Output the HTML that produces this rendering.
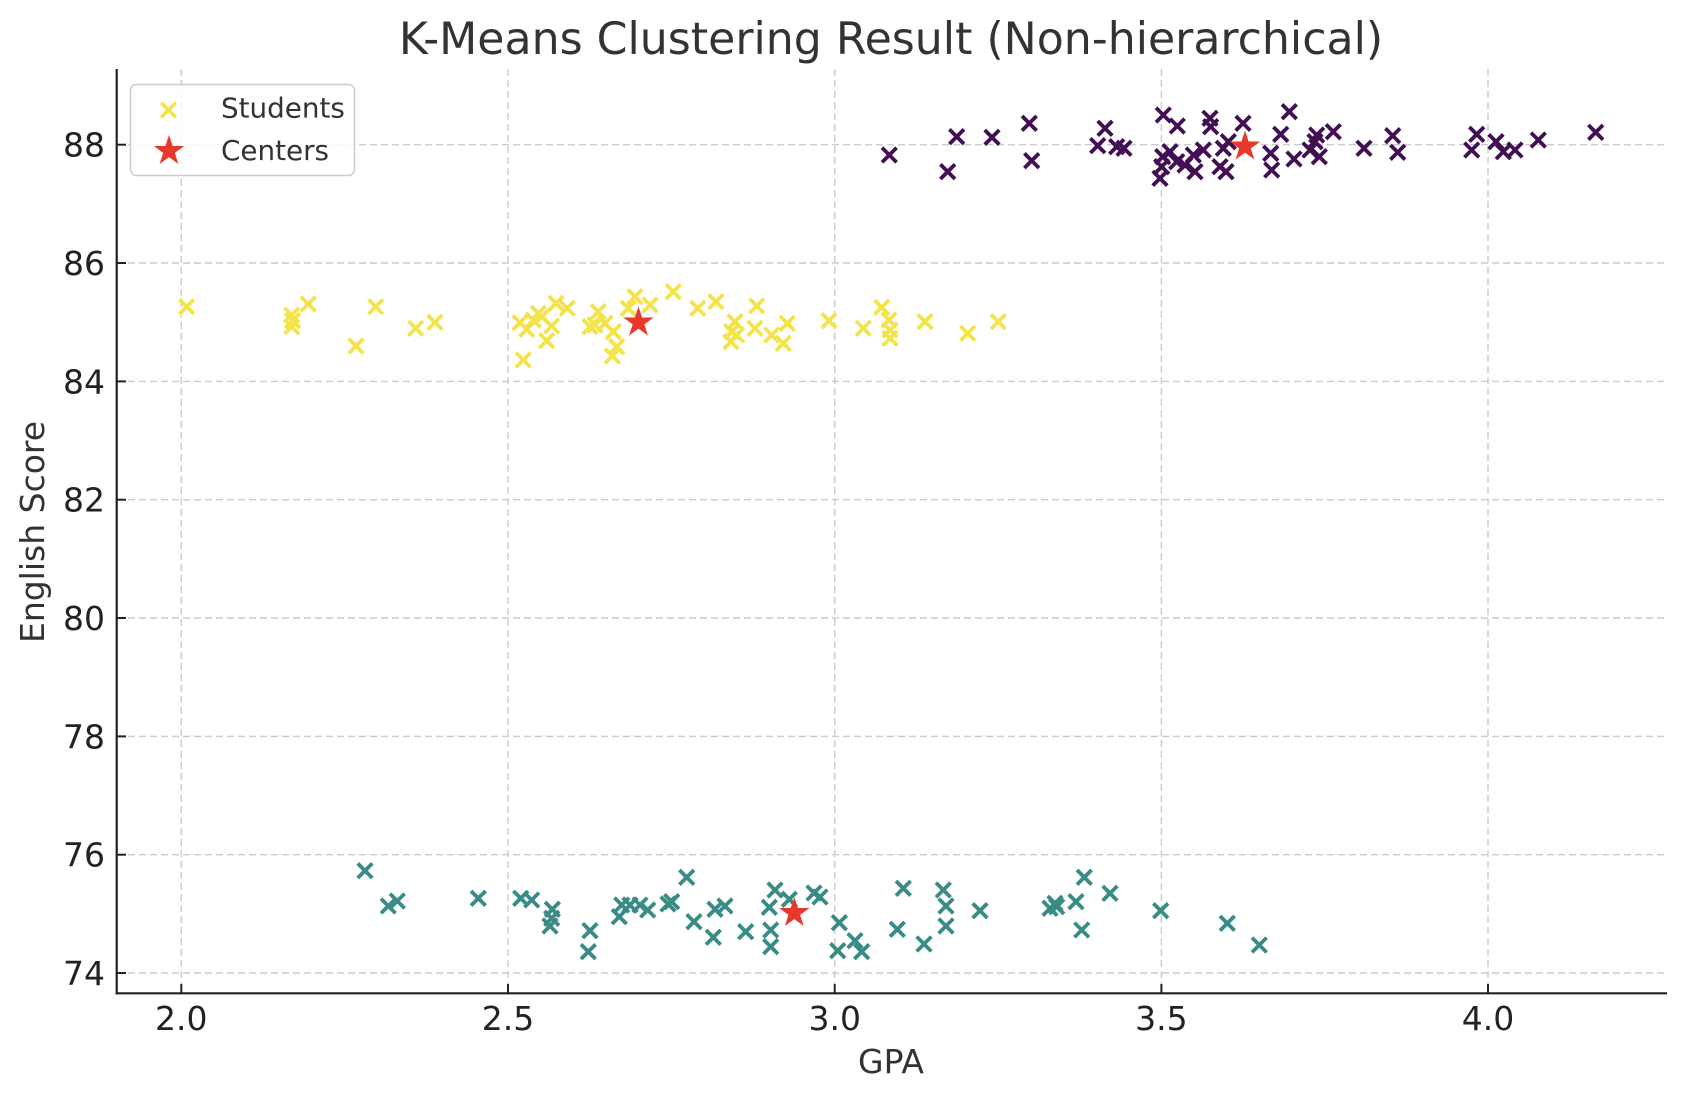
<!DOCTYPE html>
<html><head><meta charset="utf-8"><style>
html,body{margin:0;padding:0;background:#fff;}
svg{display:block;}
text{font-family:"DejaVu Sans","Liberation Sans",sans-serif;}
</style></head><body>
<svg width="1686" height="1101" viewBox="0 0 1686 1101" xmlns="http://www.w3.org/2000/svg">
<defs>
<path id="mx" d="M-7.3,-7.3L7.3,7.3M-7.3,7.3L7.3,-7.3"/>
<path id="st" d="M0,-16 L3.59,-4.94 L15.22,-4.94 L5.81,1.89 L9.40,12.94 L0,6.11 L-9.40,12.94 L-5.81,1.89 L-15.22,-4.94 L-3.59,-4.94 Z"/>
</defs>
<rect width="1686" height="1101" fill="#fff"/>
<g stroke="#cccccc" stroke-width="1.4" stroke-dasharray="7,4" fill="none">
<line x1="181.3" y1="69" x2="181.3" y2="993"/>
<line x1="508" y1="69" x2="508" y2="993"/>
<line x1="834.7" y1="69" x2="834.7" y2="993"/>
<line x1="1161.4" y1="69" x2="1161.4" y2="993"/>
<line x1="1488" y1="69" x2="1488" y2="993"/>
<line x1="117" y1="144.7" x2="1666" y2="144.7"/>
<line x1="117" y1="263" x2="1666" y2="263"/>
<line x1="117" y1="381.4" x2="1666" y2="381.4"/>
<line x1="117" y1="499.7" x2="1666" y2="499.7"/>
<line x1="117" y1="618" x2="1666" y2="618"/>
<line x1="117" y1="736.4" x2="1666" y2="736.4"/>
<line x1="117" y1="854.7" x2="1666" y2="854.7"/>
<line x1="117" y1="973" x2="1666" y2="973"/>
</g>
<g fill="none" stroke="#420f55" stroke-width="3.8">
<use href="#mx" x="889.3" y="155"/>
<use href="#mx" x="947.7" y="171.7"/>
<use href="#mx" x="956.7" y="136.7"/>
<use href="#mx" x="992" y="137.3"/>
<use href="#mx" x="1029.3" y="123.3"/>
<use href="#mx" x="1031.7" y="160.7"/>
<use href="#mx" x="1105" y="128.3"/>
<use href="#mx" x="1097.7" y="145.7"/>
<use href="#mx" x="1116.7" y="146.7"/>
<use href="#mx" x="1124" y="148.3"/>
<use href="#mx" x="1163.3" y="115"/>
<use href="#mx" x="1177.3" y="126"/>
<use href="#mx" x="1162.7" y="156.7"/>
<use href="#mx" x="1170" y="151.7"/>
<use href="#mx" x="1160" y="178.3"/>
<use href="#mx" x="1161.7" y="166.7"/>
<use href="#mx" x="1176.7" y="161.7"/>
<use href="#mx" x="1185" y="165"/>
<use href="#mx" x="1193.3" y="155"/>
<use href="#mx" x="1195" y="171.7"/>
<use href="#mx" x="1203.3" y="150"/>
<use href="#mx" x="1210" y="118.3"/>
<use href="#mx" x="1210.7" y="126.7"/>
<use href="#mx" x="1220" y="166.7"/>
<use href="#mx" x="1226" y="171.7"/>
<use href="#mx" x="1228.3" y="141.7"/>
<use href="#mx" x="1243" y="123.3"/>
<use href="#mx" x="1223.3" y="148.3"/>
<use href="#mx" x="1289.3" y="111.7"/>
<use href="#mx" x="1280.7" y="134.3"/>
<use href="#mx" x="1270.7" y="153.3"/>
<use href="#mx" x="1271.7" y="170"/>
<use href="#mx" x="1294" y="159"/>
<use href="#mx" x="1310" y="150"/>
<use href="#mx" x="1316.7" y="135"/>
<use href="#mx" x="1315" y="141.7"/>
<use href="#mx" x="1319.3" y="156.7"/>
<use href="#mx" x="1333.3" y="131.7"/>
<use href="#mx" x="1364" y="148.3"/>
<use href="#mx" x="1392.7" y="135.7"/>
<use href="#mx" x="1397.7" y="152.3"/>
<use href="#mx" x="1476.7" y="134.3"/>
<use href="#mx" x="1471.7" y="150"/>
<use href="#mx" x="1496" y="141.7"/>
<use href="#mx" x="1503.3" y="151.7"/>
<use href="#mx" x="1515" y="150"/>
<use href="#mx" x="1538.3" y="140"/>
<use href="#mx" x="1595.7" y="132.3"/>
</g>
<g fill="none" stroke="#f4e44c" stroke-width="3.8">
<use href="#mx" x="186.7" y="306.7"/>
<use href="#mx" x="291.7" y="315"/>
<use href="#mx" x="292.7" y="320.7"/>
<use href="#mx" x="291.7" y="326.7"/>
<use href="#mx" x="308.3" y="304"/>
<use href="#mx" x="356" y="346"/>
<use href="#mx" x="375.7" y="306.7"/>
<use href="#mx" x="415.7" y="328.3"/>
<use href="#mx" x="435" y="322.3"/>
<use href="#mx" x="523.3" y="360"/>
<use href="#mx" x="520" y="322.7"/>
<use href="#mx" x="526.7" y="329.3"/>
<use href="#mx" x="533.3" y="320"/>
<use href="#mx" x="538.3" y="313.3"/>
<use href="#mx" x="541.7" y="316.7"/>
<use href="#mx" x="556" y="303.3"/>
<use href="#mx" x="567.3" y="308.3"/>
<use href="#mx" x="551.7" y="326"/>
<use href="#mx" x="546.7" y="340.7"/>
<use href="#mx" x="590" y="326.7"/>
<use href="#mx" x="598.3" y="311.7"/>
<use href="#mx" x="595" y="325"/>
<use href="#mx" x="605" y="323.3"/>
<use href="#mx" x="613.3" y="331.7"/>
<use href="#mx" x="616.7" y="346.7"/>
<use href="#mx" x="612.3" y="356"/>
<use href="#mx" x="635" y="296.7"/>
<use href="#mx" x="628.3" y="308.3"/>
<use href="#mx" x="650" y="305"/>
<use href="#mx" x="673.3" y="291.7"/>
<use href="#mx" x="697.7" y="308.3"/>
<use href="#mx" x="716" y="301.7"/>
<use href="#mx" x="756.7" y="306"/>
<use href="#mx" x="735" y="321.7"/>
<use href="#mx" x="731.7" y="331.7"/>
<use href="#mx" x="731" y="341.7"/>
<use href="#mx" x="736.7" y="335"/>
<use href="#mx" x="755" y="328.3"/>
<use href="#mx" x="771.7" y="335"/>
<use href="#mx" x="783.3" y="343.3"/>
<use href="#mx" x="787.3" y="323.3"/>
<use href="#mx" x="829" y="320.7"/>
<use href="#mx" x="863.3" y="328.3"/>
<use href="#mx" x="881.7" y="307.3"/>
<use href="#mx" x="889" y="320"/>
<use href="#mx" x="890" y="330"/>
<use href="#mx" x="890" y="338.3"/>
<use href="#mx" x="925" y="321.7"/>
<use href="#mx" x="967.7" y="333.3"/>
<use href="#mx" x="998.3" y="321.7"/>
</g>
<g fill="none" stroke="#398c86" stroke-width="3.8">
<use href="#mx" x="365" y="870.7"/>
<use href="#mx" x="388.3" y="906"/>
<use href="#mx" x="397.3" y="901"/>
<use href="#mx" x="478.3" y="898.3"/>
<use href="#mx" x="520.7" y="898.3"/>
<use href="#mx" x="531.7" y="900"/>
<use href="#mx" x="552.3" y="909.3"/>
<use href="#mx" x="551.7" y="918.3"/>
<use href="#mx" x="550" y="926"/>
<use href="#mx" x="590" y="930.7"/>
<use href="#mx" x="588.3" y="951.7"/>
<use href="#mx" x="621.7" y="905"/>
<use href="#mx" x="619.3" y="916.7"/>
<use href="#mx" x="630" y="905"/>
<use href="#mx" x="640" y="905"/>
<use href="#mx" x="647.7" y="910"/>
<use href="#mx" x="671.7" y="901.7"/>
<use href="#mx" x="668" y="904"/>
<use href="#mx" x="686.7" y="877.3"/>
<use href="#mx" x="694" y="921.7"/>
<use href="#mx" x="715" y="909.3"/>
<use href="#mx" x="725" y="906"/>
<use href="#mx" x="713.3" y="937.3"/>
<use href="#mx" x="745.7" y="931.7"/>
<use href="#mx" x="769.3" y="907.3"/>
<use href="#mx" x="775" y="890"/>
<use href="#mx" x="789.3" y="899.3"/>
<use href="#mx" x="770.7" y="930"/>
<use href="#mx" x="770.7" y="946.7"/>
<use href="#mx" x="814" y="893"/>
<use href="#mx" x="820" y="897"/>
<use href="#mx" x="839.3" y="922.7"/>
<use href="#mx" x="837.7" y="950.7"/>
<use href="#mx" x="855" y="940.7"/>
<use href="#mx" x="861.7" y="951.7"/>
<use href="#mx" x="903.3" y="888.3"/>
<use href="#mx" x="897.3" y="929.3"/>
<use href="#mx" x="924" y="944"/>
<use href="#mx" x="943.3" y="890"/>
<use href="#mx" x="946" y="906"/>
<use href="#mx" x="946" y="926"/>
<use href="#mx" x="980" y="910.7"/>
<use href="#mx" x="1050" y="908.3"/>
<use href="#mx" x="1055" y="903.3"/>
<use href="#mx" x="1056.7" y="906.7"/>
<use href="#mx" x="1076" y="901.7"/>
<use href="#mx" x="1084.3" y="877.3"/>
<use href="#mx" x="1081.7" y="930"/>
<use href="#mx" x="1110" y="893.3"/>
<use href="#mx" x="1160.7" y="910.7"/>
<use href="#mx" x="1227.3" y="923.3"/>
<use href="#mx" x="1259.3" y="945"/>
</g>
<g fill="#e8382b">
<use href="#st" x="638.5" y="322.5"/>
<use href="#st" x="1245" y="146.5"/>
<use href="#st" x="794.3" y="913"/>
</g>
<g stroke="#222" stroke-width="2.2" fill="none">
<line x1="116.7" y1="69" x2="116.7" y2="994.4"/>
<line x1="115.6" y1="993.3" x2="1667" y2="993.3"/>
</g>
<g stroke="#222" stroke-width="2">
<line x1="181.3" y1="993" x2="181.3" y2="984"/>
<line x1="508" y1="993" x2="508" y2="984"/>
<line x1="834.7" y1="993" x2="834.7" y2="984"/>
<line x1="1161.4" y1="993" x2="1161.4" y2="984"/>
<line x1="1488" y1="993" x2="1488" y2="984"/>
<line x1="117" y1="144.7" x2="126" y2="144.7"/>
<line x1="117" y1="263" x2="126" y2="263"/>
<line x1="117" y1="381.4" x2="126" y2="381.4"/>
<line x1="117" y1="499.7" x2="126" y2="499.7"/>
<line x1="117" y1="618" x2="126" y2="618"/>
<line x1="117" y1="736.4" x2="126" y2="736.4"/>
<line x1="117" y1="854.7" x2="126" y2="854.7"/>
<line x1="117" y1="973" x2="126" y2="973"/>
</g>
<g fill="#222" font-size="33" text-anchor="middle">
<text x="181.3" y="1030">2.0</text>
<text x="508" y="1030">2.5</text>
<text x="834.7" y="1030">3.0</text>
<text x="1161.4" y="1030">3.5</text>
<text x="1488" y="1030">4.0</text>
</g>
<g fill="#222" font-size="33" text-anchor="end">
<text x="105" y="156.7">88</text>
<text x="105" y="275">86</text>
<text x="105" y="393.4">84</text>
<text x="105" y="511.7">82</text>
<text x="105" y="630">80</text>
<text x="105" y="748.4">78</text>
<text x="105" y="866.7">76</text>
<text x="105" y="985">74</text>
</g>
<text x="891" y="1073" font-size="33" fill="#333" text-anchor="middle">GPA</text>
<text transform="translate(44,532) rotate(-90)" font-size="33" fill="#333" text-anchor="middle">English Score</text>
<text x="891" y="54" font-size="44.2" fill="#333" text-anchor="middle">K-Means Clustering Result (Non-hierarchical)</text>
<rect x="130.5" y="84.5" width="224" height="91" rx="6" ry="6" fill="#fff" fill-opacity="0.85" stroke="#cccccc" stroke-width="1.5"/>
<use href="#mx" x="168.5" y="110" stroke="#f4e44c" stroke-width="3.8" fill="none"/>
<use href="#st" x="169" y="151" fill="#e8382b"/>
<text x="221" y="117.5" font-size="27.8" fill="#333">Students</text>
<text x="221" y="160" font-size="27.8" fill="#333">Centers</text>
</svg>
</body></html>
